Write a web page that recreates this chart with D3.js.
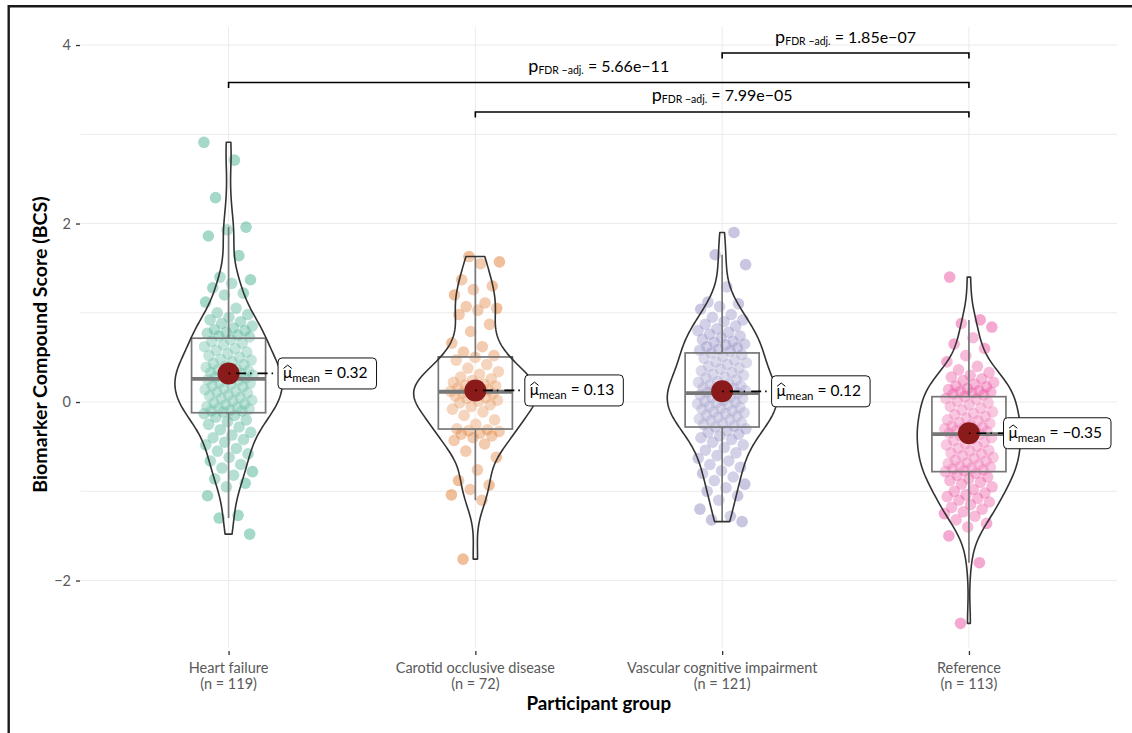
<!DOCTYPE html>
<html><head><meta charset="utf-8">
<script src="https://cdn.jsdelivr.net/npm/d3@7"></script>
<style>
body{margin:0;background:#fff}
svg{display:block}
text{font-family:Lato,"Noto Sans",sans-serif}
</style>
</head><body>
<svg id="chart" width="1132" height="733"></svg>
<script>
// ---------------- data ----------------
const categories = ["Heart failure", "Carotid occlusive disease", "Vascular cognitive impairment", "Reference"];
const colors = ["#1B9E77", "#D95F02", "#7570B3", "#E7298A"];

const heartFailure = [2.91,2.71,2.29,1.96,1.93,1.86,1.64,1.40,1.37,1.33,1.28,1.22,1.20,1.12,1.05,1.00,0.98,0.95,0.92,0.90,
  0.88,0.85,0.83,0.81,0.80,0.78,0.77,0.75,0.74,0.73,
  0.70,0.68,0.66,0.64,0.62,0.60,0.58,0.56,0.54,0.52,0.50,0.48,0.47,0.45,0.43,0.42,0.40,0.39,0.37,0.36,
  0.35,0.34,0.33,0.32,0.31,0.30,0.29,0.28,0.27,0.26,
  0.25,0.24,0.22,0.21,0.20,0.18,0.17,0.15,0.14,0.12,0.11,0.10,0.08,0.07,0.05,0.04,0.02,0.01,-0.01,-0.02,
  -0.03,-0.05,-0.06,-0.07,-0.08,-0.09,-0.10,-0.10,-0.11,
  -0.13,-0.15,-0.17,-0.20,-0.22,-0.25,-0.28,-0.31,-0.34,-0.37,-0.40,-0.42,-0.45,-0.48,-0.52,-0.55,-0.58,-0.62,-0.66,-0.70,
  -0.74,-0.78,-0.82,-0.86,-0.91,-0.95,-1.05,-1.27,-1.30,-1.48];
const carotid = [1.63,1.57,1.55,1.37,1.30,1.26,1.20,1.11,1.07,1.05,1.03,0.98,0.87,0.79,0.66,0.62,0.56,0.52,
  0.50,0.47,0.42,0.38,0.34,0.31,0.28,0.26,0.24,0.22,0.20,0.19,0.18,0.17,0.16,0.14,0.13,0.12,
  0.11,0.10,0.09,0.08,0.07,0.05,0.04,0.02,0.01,-0.01,-0.03,-0.05,-0.08,-0.11,-0.15,-0.20,-0.25,-0.30,
  -0.31,-0.32,-0.33,-0.35,-0.36,-0.38,-0.40,-0.43,-0.47,-0.55,-0.62,-0.76,-0.88,-0.93,-0.98,-1.04,-1.10,-1.76];
const vascularCognitive = [1.90,1.65,1.54,1.29,1.12,1.10,1.07,1.04,0.98,0.95,0.92,0.90,0.87,0.85,0.82,0.80,0.78,0.76,0.74,0.72,
  0.70,0.68,0.67,0.65,0.64,0.62,0.61,0.59,0.58,0.57,
  0.55,0.53,0.51,0.49,0.47,0.45,0.44,0.42,0.40,0.38,0.37,0.35,0.33,0.31,0.30,0.28,0.27,0.25,0.23,0.22,
  0.20,0.19,0.18,0.17,0.16,0.15,0.14,0.13,0.12,0.11,
  0.10,0.09,0.08,0.06,0.05,0.04,0.02,0.01,0.00,-0.01,-0.02,-0.03,-0.05,-0.06,-0.07,-0.08,-0.10,-0.11,-0.12,-0.13,
  -0.15,-0.16,-0.17,-0.19,-0.20,-0.21,-0.23,-0.24,-0.25,-0.27,-0.28,
  -0.30,-0.32,-0.34,-0.36,-0.38,-0.40,-0.42,-0.45,-0.48,-0.51,-0.54,-0.57,-0.60,-0.63,-0.66,-0.70,-0.73,-0.77,-0.80,-0.84,
  -0.88,-0.92,-0.96,-1.00,-1.05,-1.10,-1.20,-1.28,-1.32,-1.34];
const reference = [1.40,0.92,0.88,0.84,0.72,0.65,0.60,0.52,0.45,0.40,0.36,0.33,0.30,0.28,0.26,0.24,0.22,0.20,0.18,0.17,
  0.15,0.14,0.13,0.12,0.11,0.10,0.09,0.08,
  0.06,0.04,0.03,0.01,-0.01,-0.03,-0.05,-0.07,-0.09,-0.11,-0.13,-0.14,-0.16,-0.18,-0.20,-0.21,-0.23,-0.24,-0.26,-0.27,
  -0.28,-0.29,-0.30,-0.31,-0.32,-0.33,-0.34,-0.35,
  -0.36,-0.38,-0.40,-0.41,-0.43,-0.45,-0.47,-0.48,-0.50,-0.52,-0.54,-0.55,-0.57,-0.58,-0.60,-0.62,-0.63,-0.65,-0.66,-0.68,
  -0.69,-0.70,-0.72,-0.73,-0.74,-0.75,-0.76,-0.77,-0.78,
  -0.80,-0.82,-0.84,-0.86,-0.88,-0.90,-0.92,-0.95,-0.98,-1.00,-1.02,-1.04,-1.06,-1.08,-1.10,-1.12,-1.15,-1.18,-1.20,-1.23,
  -1.25,-1.28,-1.32,-1.36,-1.40,-1.50,-1.80,-2.48];
const groupValues = [heartFailure, carotid, vascularCognitive, reference];

const meanValues = [0.32, 0.13, 0.12, -0.35];
const meanLabels = ["0.32", "0.13", "0.12", "−0.35"];

const pairFrom = [0, 1, 2];
const pairTo = [3, 3, 3];
const pairHeight = [3.58, 3.25, 3.91];
const pairLabels = ["5.66e−11", "7.99e−05", "1.85e−07"];

const yMajorTicks = [-2, 0, 2, 4];
const yMinorTicks = [-1, 1, 3];

// ---------------- layout ----------------
const svg = d3.select("#chart");
const P = {left: 80.5, right: 1117, top: 27, bottom: 648};
const x = d3.scalePoint().domain(categories).range([P.left, P.right]).padding(0.6);
const step = x.step();
const y = d3.scaleLinear().domain([-2.756, 4.202]).range([P.bottom, P.top]);

// outer frame (left/top visible)
svg.append("path").attr("d", "M8.7,733 V6.2 H1132").attr("fill", "none").attr("stroke", "#1a1a1a").attr("stroke-width", 2.4);

// grid
const grid = svg.append("g");
grid.selectAll(".hg").data(yMajorTicks.concat(yMinorTicks)).join("line")
  .attr("x1", P.left).attr("x2", P.right).attr("y1", d => y(d)).attr("y2", d => y(d))
  .attr("stroke", "#ebebeb").attr("stroke-width", 1);
grid.selectAll(".vg").data(categories).join("line")
  .attr("x1", d => x(d)).attr("x2", d => x(d)).attr("y1", P.top).attr("y2", P.bottom)
  .attr("stroke", "#ebebeb").attr("stroke-width", 1);

// y axis
const yAxis = svg.append("g").attr("transform", `translate(${P.left - 0.5},0)`)
  .call(d3.axisLeft(y).tickValues(yMajorTicks).tickSize(4).tickPadding(5).tickFormat(d3.format("d")));
yAxis.select(".domain").remove();
yAxis.selectAll(".tick line").attr("stroke", "#333").attr("stroke-width", 1.3);
yAxis.selectAll(".tick text").attr("font-size", 14.5).attr("fill", "#595959").attr("font-family", "Lato");

// x axis
const xAxis = svg.append("g").attr("transform", `translate(0,${P.bottom + 3})`)
  .call(d3.axisBottom(x).tickSize(4).tickFormat(""));
xAxis.select(".domain").remove();
xAxis.selectAll(".tick line").attr("stroke", "#333").attr("stroke-width", 1.3);
categories.forEach((c, i) => {
  const t = svg.append("text").attr("x", x(c)).attr("y", 673).attr("text-anchor", "middle")
    .attr("font-size", 14.5).attr("fill", "#595959");
  t.append("tspan").attr("x", x(c)).text(c);
  t.append("tspan").attr("x", x(c)).attr("dy", 15.5).text(`(n = ${groupValues[i].length})`);
});

// axis titles
svg.append("text").attr("x", (P.left + P.right) / 2).attr("y", 710).attr("text-anchor", "middle")
  .attr("font-size", 18.8).attr("font-weight", "bold").attr("fill", "#000").text("Participant group");
svg.append("text").attr("transform", `translate(46.5,${(P.top + P.bottom) / 2 + 7}) rotate(-90)`)
  .attr("text-anchor", "middle").attr("font-size", 19.6).attr("font-weight", "bold").attr("fill", "#000")
  .text("Biomarker Compound Score (BCS)");

// ---------------- statistics ----------------
function kde(values) {
  const n = values.length;
  const s = values.slice().sort(d3.ascending);
  const sd = d3.deviation(s);
  const iqr = d3.quantileSorted(s, 0.75) - d3.quantileSorted(s, 0.25);
  const bw = 0.9 * Math.min(sd, iqr / 1.34) * Math.pow(n, -0.2);
  const lo = s[0], hi = s[n - 1];
  const pts = [];
  for (let k = 0; k <= 200; k++) {
    const v = lo + (hi - lo) * k / 200;
    let sum = 0;
    for (const xi of s) { const z = (v - xi) / bw; sum += Math.exp(-0.5 * z * z); }
    pts.push([v, sum / (n * bw * Math.sqrt(2 * Math.PI))]);
  }
  return pts;
}
const densities = groupValues.map(kde);
const maxDens = d3.max(densities, d => d3.max(d, p => p[1]));

function boxStats(values) {
  const s = values.slice().sort(d3.ascending);
  const q1 = d3.quantileSorted(s, 0.25), med = d3.quantileSorted(s, 0.5), q3 = d3.quantileSorted(s, 0.75);
  const iqr = q3 - q1;
  const lo = d3.min(s.filter(v => v >= q1 - 1.5 * iqr));
  const hi = d3.max(s.filter(v => v <= q3 + 1.5 * iqr));
  return {q1, med, q3, lo, hi};
}

// ---------------- points ----------------
const pointsG = svg.append("g");
groupValues.forEach((vals, gi) => {
  const cx = x(categories[gi]);
  pointsG.selectAll(null).data(vals).join("circle")
    .attr("cx", (d, i) => cx + (((i * 0.6180339887 + gi * 0.37) % 1) - 0.5) * 0.2 * step)
    .attr("cy", d => y(d))
    .attr("r", 5.8)
    .attr("fill", colors[gi]).attr("fill-opacity", 0.4);
});

// ---------------- box + violin ----------------
const layer = svg.append("g");
groupValues.forEach((vals, gi) => {
  const cx = x(categories[gi]);
  const b = boxStats(vals);
  const bw = 0.3 * step;
  layer.append("line").attr("x1", cx).attr("x2", cx).attr("y1", y(b.q3)).attr("y2", y(b.hi))
    .attr("stroke", "#555").attr("stroke-width", 1.7);
  layer.append("line").attr("x1", cx).attr("x2", cx).attr("y1", y(b.q1)).attr("y2", y(b.lo))
    .attr("stroke", "#555").attr("stroke-width", 1.7);
  layer.append("rect").attr("x", cx - bw / 2).attr("width", bw)
    .attr("y", y(b.q3)).attr("height", y(b.q1) - y(b.q3))
    .attr("fill", "#fff").attr("fill-opacity", 0.2).attr("stroke", "#555").attr("stroke-width", 1.7);
  layer.append("line").attr("x1", cx - bw / 2).attr("x2", cx + bw / 2).attr("y1", y(b.med)).attr("y2", y(b.med))
    .attr("stroke", "#555").attr("stroke-width", 3.8);

  const half = 0.5 * step / 2;
  const area = d3.area()
    .y(p => y(p[0]))
    .x0(p => cx - p[1] / maxDens * half)
    .x1(p => cx + p[1] / maxDens * half);
  layer.append("path").attr("d", area(densities[gi]))
    .attr("fill", "#fff").attr("fill-opacity", 0.2).attr("stroke", "#333").attr("stroke-width", 1.6)
    .attr("stroke-linejoin", "round");
});

// ---------------- means + labels ----------------
const meanG = svg.append("g");
meanValues.forEach((m, gi) => {
  const cx = x(categories[gi]);
  meanG.append("circle").attr("cx", cx).attr("cy", y(m)).attr("r", 11).attr("fill", "#8B1A1A");
});
meanValues.forEach((m, gi) => {
  const cx = x(categories[gi]);
  const cy = y(m);
  const g = meanG.append("g");
  const t = g.append("text").attr("x", 0).attr("y", 0).attr("font-size", 15.5).attr("fill", "#000");
  t.append("tspan").text("μ");
  t.append("tspan").attr("font-size", 11.5).attr("dy", 4).text("mean");
  t.append("tspan").attr("dy", -4).text(" = " + meanLabels[gi]);
  const tw = t.node().getComputedTextLength();
  const muExt = t.node().getExtentOfChar(0);
  const padL = 5, padR = 9, h = 31;
  const w = tw + padL + padR;
  let left = cx + 0.4 * step - w / 2;
  if (left + w > P.right - 6) left = P.right - 6 - w;
  // segment
  meanG.insert("line", "g").attr("x1", cx).attr("y1", cy).attr("x2", left).attr("y2", cy)
    .attr("stroke", "#000").attr("stroke-width", 1.7).attr("stroke-dasharray", "1.5,6,10,4");
  g.insert("rect", "text").attr("x", left).attr("y", cy - h / 2).attr("width", w).attr("height", h)
    .attr("rx", 4).attr("fill", "#fff").attr("stroke", "#111").attr("stroke-width", 1);
  const baseY = cy + 4.5;
  t.attr("x", left + padL).attr("y", baseY);
  const mx = left + padL + muExt.x, mw = muExt.width;
  g.append("path")
    .attr("d", `M${mx + 0.5},${baseY - 9.5} L${mx + mw / 2},${baseY - 12.8} L${mx + mw - 0.5},${baseY - 9.5}`)
    .attr("fill", "none").attr("stroke", "#000").attr("stroke-width", 1);
});

// ---------------- pairwise brackets ----------------
const br = svg.append("g");
pairFrom.forEach((f, k) => {
  const x1 = x(categories[f]), x2 = x(categories[pairTo[k]]);
  const yy = y(pairHeight[k]);
  br.append("path").attr("d", `M${x1},${yy + 5.5} V${yy} H${x2} V${yy + 5.5}`)
    .attr("fill", "none").attr("stroke", "#000").attr("stroke-width", 1.6);
  const t = br.append("text").attr("x", (x1 + x2) / 2).attr("y", yy - 10.5)
    .attr("text-anchor", "middle").attr("font-size", 16).attr("fill", "#000");
  t.append("tspan").attr("font-size", 18).text("p");
  t.append("tspan").attr("font-size", 10.5).attr("dy", 2).text("FDR  −adj.");
  t.append("tspan").attr("dy", -2).text(" = " + pairLabels[k]);
});
</script>
</body></html>
